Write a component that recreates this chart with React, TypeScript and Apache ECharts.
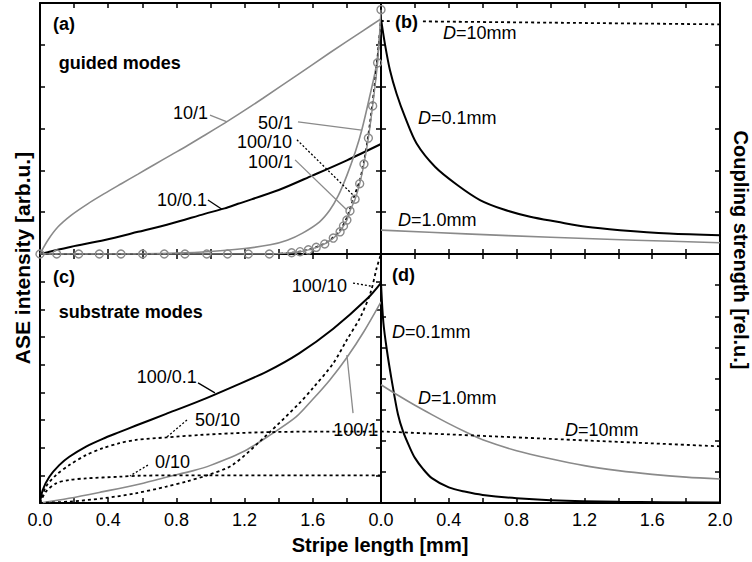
import React, { useEffect, useRef } from "react";
import * as echarts from "echarts";

type Pt = [number, number];

const FONT = "'Liberation Sans', Arial, Helvetica, sans-serif";
const GRAY = "#8a8a8a";
const BLACK = "#000000";

// ---- (a) guided modes: ASE intensity [arb.u.] vs stripe length [mm] ----
const guided10_1: Pt[] = [
  [0, 0], [0.047, 0.335], [0.106, 0.65], [0.184, 0.93], [0.28, 1.2], [0.38, 1.45],
  [0.477, 1.68], [0.575, 1.91], [0.672, 2.14], [0.77, 2.37], [0.868, 2.6], [0.966, 2.84],
  [1.083, 3.13], [1.161, 3.33], [1.31, 3.73], [1.506, 4.27], [1.7, 4.81], [1.896, 5.34],
  [2.0, 5.62],
];
const guided10_01: Pt[] = [
  [0, 0], [0.055, 0.055], [0.184, 0.175], [0.38, 0.335], [0.575, 0.53], [0.77, 0.73],
  [0.966, 0.96], [1.083, 1.09], [1.161, 1.2], [1.4, 1.53], [1.6, 1.88], [1.8, 2.24], [2.0, 2.63],
];
const guided50_1: Pt[] = [
  [0, 0], [0.6, 0.005], [0.8, 0.02], [1.0, 0.06], [1.2, 0.13], [1.35, 0.22], [1.45, 0.33],
  [1.54, 0.5], [1.64, 0.77], [1.7, 1.05], [1.75, 1.4], [1.8, 1.88], [1.85, 2.45],
  [1.887, 2.96], [1.93, 3.7], [1.975, 4.56], [2.0, 5.62],
];
const guided100_1x = [
  0, 0.098, 0.227, 0.348, 0.475, 0.602, 0.729, 0.85, 0.978, 1.1, 1.222, 1.345, 1.476,
  1.525, 1.574, 1.62, 1.67, 1.72, 1.76, 1.78, 1.8, 1.818, 1.848, 1.875, 1.9, 1.926,
  1.951, 1.98, 2.0,
];
const guided100_1y = [
  0, 0, 0, 0, 0, 0, 0, 0, 0, 0, 0, 0, 0.03, 0.055, 0.1, 0.16, 0.24, 0.38, 0.53, 0.67,
  0.81, 1.03, 1.31, 1.68, 2.15, 2.77, 3.54, 4.57, 5.84,
];
const guided100_10: Pt[] = [
  [0, 0], [1.35, 0], [1.476, 0.03], [1.574, 0.1], [1.67, 0.25], [1.72, 0.4], [1.76, 0.57],
  [1.8, 0.87], [1.838, 1.33], [1.875, 1.75], [1.9, 2.2], [1.926, 2.85], [1.95, 3.6],
  [1.975, 4.5], [2.0, 5.62],
];

// ---- (b) coupling strength [rel.u.], guided modes ----
const coupGuided10: Pt[] = [[0, 5.57], [1.0, 5.53], [2.0, 5.49]];
const coupGuided01: Pt[] = [
  [0, 5.62], [0.024, 5.0], [0.053, 4.39], [0.092, 3.83], [0.142, 3.27], [0.21, 2.64],
  [0.32, 2.08], [0.45, 1.65], [0.584, 1.29], [0.72, 1.07], [0.88, 0.89], [1.04, 0.77],
  [1.21, 0.65], [1.41, 0.57], [1.7, 0.49], [2.0, 0.45],
];
const coupGuided1: Pt[] = [[0, 0.57], [0.5, 0.48], [1.0, 0.4], [1.5, 0.33], [2.0, 0.27]];

// ---- (c) substrate modes ----
const sub100_01: Pt[] = [
  [0, 0], [0.016, 0.47], [0.055, 0.95], [0.113, 1.37], [0.172, 1.67], [0.27, 2.04],
  [0.368, 2.32], [0.465, 2.56], [0.563, 2.8], [0.74, 3.22], [0.94, 3.7], [1.13, 4.2],
  [1.33, 4.75], [1.52, 5.41], [1.72, 6.3], [1.92, 7.39], [2.0, 7.96],
];
const sub100_1: Pt[] = [
  [0, 0], [0.17, 0.17], [0.37, 0.41], [0.56, 0.65], [0.74, 0.93], [0.9, 1.17], [1.0, 1.36],
  [1.2, 1.88], [1.36, 2.5], [1.5, 3.1], [1.6, 3.75], [1.7, 4.45], [1.8, 5.26], [1.9, 6.2],
  [2.0, 7.27],
];
const sub100_10: Pt[] = [
  [0, 0], [0.17, 0.05], [0.37, 0.17], [0.56, 0.35], [0.74, 0.59], [0.86, 0.78], [0.98, 1.0],
  [1.13, 1.38], [1.33, 2.46], [1.52, 3.6], [1.6, 4.15], [1.72, 5.05], [1.8, 5.9],
  [1.88, 6.73], [1.94, 7.63], [1.975, 8.5], [2.0, 9.0],
];
const sub50_10: Pt[] = [
  [0, 0], [0.035, 0.59], [0.094, 1.01], [0.172, 1.37], [0.27, 1.73], [0.368, 1.98],
  [0.465, 2.16], [0.563, 2.28], [0.74, 2.37], [0.94, 2.46], [1.13, 2.52], [1.33, 2.56],
  [1.6, 2.58], [2.0, 2.58],
];
const sub0_10: Pt[] = [
  [0, 0], [0.035, 0.41], [0.094, 0.71], [0.172, 0.83], [0.27, 0.89], [0.465, 0.95],
  [0.6, 0.99], [1.0, 1.0], [2.0, 1.0],
];

// ---- (d) coupling strength [rel.u.], substrate modes ----
const coupSub01: Pt[] = [
  [0, 7.06], [0.014, 5.8], [0.035, 4.9], [0.063, 3.95], [0.1, 2.85], [0.13, 2.3],
  [0.17, 1.78], [0.2, 1.45], [0.25, 1.08], [0.3, 0.8], [0.4, 0.5], [0.5, 0.36],
  [0.6, 0.26], [0.8, 0.15], [1.0, 0.09], [1.4, 0.04], [2.0, 0.015],
];
const coupSub1: Pt[] = [
  [0, 3.8], [0.1, 3.46], [0.2, 3.14], [0.3, 2.84], [0.4, 2.55], [0.5, 2.28], [0.6, 2.03],
  [0.8, 1.68], [1.0, 1.42], [1.2, 1.2], [1.4, 1.04], [1.6, 0.92], [1.8, 0.83], [2.0, 0.77],
];
const coupSub10: Pt[] = [[0, 2.3], [1.0, 2.06], [2.0, 1.82]];

// y-axis extents (tick count) per panel
const yMax = [6, 6, 9, 8];

// panel rectangles
const grids = [
  { left: 40, top: 3, width: 341, height: 251 },
  { left: 381, top: 3, width: 339, height: 251 },
  { left: 40, top: 254, width: 341, height: 249 },
  { left: 381, top: 254, width: 339, height: 249 },
];

type Anno = {
  grid: number;
  at: Pt;
  text: string;
  align?: "left" | "right";
  bold?: boolean;
  italicD?: boolean;
  bg?: boolean;
};
type Leader = { grid: number; from: Pt; to: Pt; color: string; dotted?: boolean };

const annotations: Anno[] = [
  { grid: 0, at: [0.076, 5.5], text: "(a)", bold: true },
  { grid: 0, at: [0.11, 4.57], text: "guided modes", bold: true },
  { grid: 0, at: [0.985, 3.37], text: "10/1", align: "right" },
  { grid: 0, at: [1.484, 3.13], text: "50/1", align: "right" },
  { grid: 0, at: [1.478, 2.68], text: "100/10", align: "right" },
  { grid: 0, at: [1.484, 2.2], text: "100/1", align: "right" },
  { grid: 0, at: [0.98, 1.29], text: "10/0.1", align: "right" },
  { grid: 1, at: [0.071, 5.55], text: "(b)", bold: true, bg: true },
  { grid: 1, at: [0.366, 5.28], text: "=10mm", italicD: true },
  { grid: 1, at: [0.218, 3.25], text: "=0.1mm", italicD: true },
  { grid: 1, at: [0.1, 0.81], text: "=1.0mm", italicD: true },
  { grid: 2, at: [0.076, 8.17], text: "(c)", bold: true },
  { grid: 2, at: [0.11, 6.9], text: "substrate modes", bold: true },
  { grid: 2, at: [1.8, 7.84], text: "100/10", align: "right" },
  { grid: 2, at: [0.92, 4.55], text: "100/0.1", align: "right" },
  { grid: 2, at: [0.909, 3.0], text: "50/10" },
  { grid: 2, at: [0.674, 1.48], text: "0/10" },
  { grid: 2, at: [1.72, 2.64], text: "100/1" },
  { grid: 3, at: [0.065, 7.33], text: "(d)", bold: true },
  { grid: 3, at: [0.065, 5.49], text: "=0.1mm", italicD: true },
  { grid: 3, at: [0.218, 3.37], text: "=1.0mm", italicD: true },
  { grid: 3, at: [1.086, 2.35], text: "=10mm", italicD: true },
];

const leaders: Leader[] = [
  { grid: 0, from: [0.997, 3.32], to: [1.097, 3.16], color: GRAY },
  { grid: 0, from: [1.513, 3.16], to: [1.887, 2.96], color: GRAY },
  { grid: 0, from: [1.507, 2.73], to: [1.836, 1.41], color: BLACK, dotted: true },
  { grid: 0, from: [1.496, 2.25], to: [1.8, 1.05], color: GRAY },
  { grid: 0, from: [0.985, 1.29], to: [1.067, 1.07], color: BLACK },
  { grid: 2, from: [1.836, 7.95], to: [1.94, 7.84], color: BLACK, dotted: true },
  { grid: 2, from: [0.927, 4.34], to: [1.026, 3.98], color: BLACK },
  { grid: 2, from: [0.862, 3.0], to: [0.745, 2.39], color: BLACK, dotted: true },
  { grid: 2, from: [0.633, 1.37], to: [0.528, 0.98], color: BLACK, dotted: true },
  { grid: 2, from: [1.836, 3.25], to: [1.8, 5.35], color: GRAY },
];

const LABEL_SIZE = 18;

function xAxisFor(gridIndex: number, position: "top" | "bottom") {
  const showLabels = position === "bottom" && gridIndex >= 2;
  return {
    type: "value",
    gridIndex,
    position,
    min: 0,
    max: 2,
    interval: 0.2,
    axisLine: { show: true, onZero: false, lineStyle: { color: BLACK, width: 2 } },
    axisTick: { show: true, inside: true, length: 5, lineStyle: { color: BLACK, width: 1.5 } },
    splitLine: { show: false },
    axisLabel: {
      show: showLabels,
      color: BLACK,
      fontFamily: FONT,
      fontSize: LABEL_SIZE,
      margin: 8,
      showMinLabel: true,
      showMaxLabel: true,
      formatter: (v: number) => {
        const k = Math.round(v * 10);
        if (k % 4 !== 0) return "";
        if (gridIndex === 2 && k === 20) return "";
        return (k / 10).toFixed(1);
      },
    },
  };
}

function yAxisFor(gridIndex: number, position: "left" | "right") {
  return {
    type: "value",
    gridIndex,
    position,
    min: 0,
    max: yMax[gridIndex],
    interval: 1,
    axisLine: { show: true, onZero: false, lineStyle: { color: BLACK, width: 2 } },
    axisTick: { show: true, inside: true, length: 5, lineStyle: { color: BLACK, width: 1.5 } },
    splitLine: { show: false },
    axisLabel: { show: false },
  };
}

function curve(grid: number, data: Pt[], color: string, width: number, dotted = false) {
  return {
    type: "line",
    xAxisIndex: grid * 2,
    yAxisIndex: grid * 2,
    data,
    symbol: "none",
    showSymbol: false,
    smooth: 0.3,
    lineStyle: { color, width, type: dotted ? [3, 3] : "solid" },
    z: dotted ? 3 : 2,
  };
}

export default function App() {
  const ref = useRef<HTMLDivElement>(null);

  useEffect(() => {
    const el = ref.current;
    if (!el) return;
    const chart = echarts.init(el, null, { renderer: "svg" });

    const xAxes: any[] = [];
    const yAxes: any[] = [];
    for (let g = 0; g < 4; g++) {
      xAxes.push(xAxisFor(g, "bottom"), xAxisFor(g, "top"));
      yAxes.push(yAxisFor(g, "left"), yAxisFor(g, "right"));
    }

    const circles = guided100_1x.map((x, i) => [x, guided100_1y[i]]);

    const series: any[] = [
      curve(0, guided10_1, GRAY, 1.6),
      curve(0, guided10_01, BLACK, 2),
      curve(0, guided50_1, GRAY, 1.6),
      curve(0, guided100_10, BLACK, 1.8, true),
      {
        type: "line",
        xAxisIndex: 0,
        yAxisIndex: 0,
        data: circles,
        symbol: "circle",
        symbolSize: 8,
        showSymbol: true,
        showAllSymbol: true,
        smooth: 0.2,
        lineStyle: { color: GRAY, width: 1.4 },
        itemStyle: { color: "rgba(255,255,255,0)", borderColor: GRAY, borderWidth: 1.4 },
        z: 4,
      },
      curve(1, coupGuided10, BLACK, 1.8, true),
      curve(1, coupGuided01, BLACK, 2),
      curve(1, coupGuided1, GRAY, 1.6),
      curve(2, sub100_01, BLACK, 2),
      curve(2, sub100_1, GRAY, 1.6),
      curve(2, sub100_10, BLACK, 1.8, true),
      curve(2, sub50_10, BLACK, 1.8, true),
      curve(2, sub0_10, BLACK, 1.8, true),
      curve(3, coupSub01, BLACK, 2),
      curve(3, coupSub1, GRAY, 1.6),
      curve(3, coupSub10, BLACK, 1.8, true),
    ];

    chart.setOption({
      animation: false,
      backgroundColor: "#ffffff",
      grid: grids.map((r) => ({ ...r, containLabel: false, outerBoundsMode: "none" })),
      xAxis: xAxes,
      yAxis: yAxes,
      series,
    });

    const toPx = (grid: number, p: Pt) =>
      chart.convertToPixel({ xAxisIndex: grid * 2, yAxisIndex: grid * 2 } as any, p) as number[];

    const graphics: any[] = [];

    leaders.forEach((l) => {
      const a = toPx(l.grid, l.from);
      const b = toPx(l.grid, l.to);
      graphics.push({
        type: "line",
        shape: { x1: a[0], y1: a[1], x2: b[0], y2: b[1] },
        style: { stroke: l.color, lineWidth: 1.3, lineDash: l.dotted ? [2, 2] : null },
        z: 10,
      });
    });

    annotations.forEach((t) => {
      const p = toPx(t.grid, t.at);
      const base = {
        fontFamily: FONT,
        fontSize: LABEL_SIZE,
        fill: BLACK,
      };
      const style: any = {
        ...base,
        fontWeight: t.bold ? "bold" : "normal",
        align: t.align || "left",
        verticalAlign: "middle",
      };
      if (t.italicD) {
        style.text = "{i|D}{n|" + t.text + "}";
        style.rich = {
          i: { ...base, fontStyle: "italic" },
          n: { ...base },
        };
      } else {
        style.text = t.text;
      }
      if (t.bg) {
        style.backgroundColor = "#ffffff";
        style.padding = [0, 2];
      }
      graphics.push({ type: "text", x: p[0], y: p[1], style, z: 20 });
    });

    // axis titles
    graphics.push(
      {
        type: "text",
        x: 380,
        y: 545,
        style: {
          text: "Stripe length [mm]",
          fontFamily: FONT,
          fontSize: 20,
          fontWeight: "bold",
          fill: BLACK,
          align: "center",
          verticalAlign: "middle",
        },
      },
      {
        type: "text",
        x: 22,
        y: 258,
        rotation: Math.PI / 2,
        style: {
          text: "ASE intensity [arb.u.]",
          fontFamily: FONT,
          fontSize: 21,
          fontWeight: "bold",
          fill: BLACK,
          align: "center",
          verticalAlign: "middle",
        },
      },
      {
        type: "text",
        x: 741,
        y: 250,
        rotation: -Math.PI / 2,
        style: {
          text: "Coupling strength [rel.u.]",
          fontFamily: FONT,
          fontSize: 20,
          fontWeight: "bold",
          fill: BLACK,
          align: "center",
          verticalAlign: "middle",
        },
      }
    );

    chart.setOption({ graphic: graphics });

    return () => chart.dispose();
  }, []);

  return (
    <div
      ref={ref}
      style={{ position: "absolute", left: 0, top: 0, width: 752, height: 562, background: "#fff" }}
    />
  );
}
